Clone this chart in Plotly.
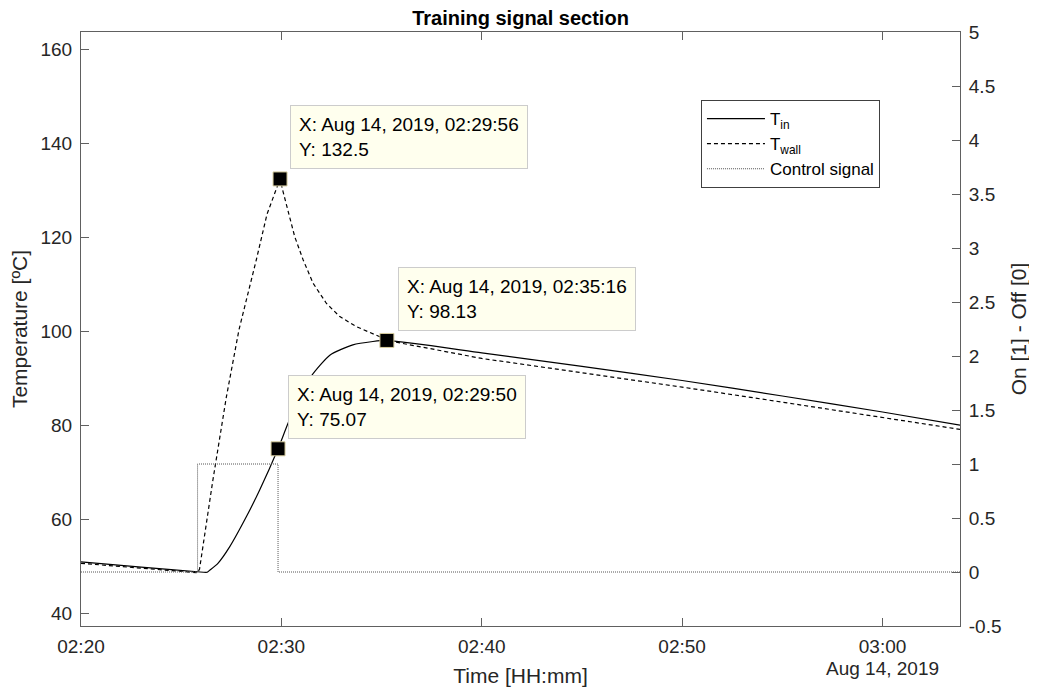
import plotly.graph_objects as go

DATE = "2019-08-14 "

# T_in (solid)
tin_time = ["02:20:00", "02:23:00", "02:25:49", "02:26:18", "02:26:25", "02:26:50", "02:27:25",
            "02:28:15", "02:28:55", "02:29:50", "02:30:20", "02:31:00", "02:31:30", "02:32:25",
            "02:33:34", "02:34:34", "02:35:16", "02:40:00", "02:45:00", "02:50:00", "02:55:00",
            "03:00:00", "03:03:52"]
tin_vals = [51.0, 49.9, 48.9, 48.8, 49.2, 50.7, 54.2,
            60.6, 66.3, 75.07, 80.5, 86.8, 90.6, 95.0,
            97.2, 97.9, 98.13, 95.5, 92.6, 89.6, 86.3,
            82.9, 80.1]

# T_wall (dashed)
twall_time = ["02:20:00", "02:25:49", "02:25:55", "02:26:34", "02:27:15", "02:27:53", "02:28:45",
              "02:29:17", "02:29:56", "02:30:05", "02:30:40", "02:31:05", "02:31:35", "02:32:15",
              "02:32:55", "02:33:44", "02:34:55", "02:35:16", "02:40:00", "02:45:00", "02:50:00",
              "02:55:00", "03:00:00", "03:03:52"]
twall_vals = [50.7, 48.7, 49.5, 68.0, 86.0, 100.4, 115.3,
              125.0, 132.5, 129.8, 120.2, 115.3, 110.3, 106.0,
              103.2, 101.1, 98.9, 98.13, 94.3, 91.3, 88.2,
              85.0, 81.7, 79.2]

# Control signal (step, right axis)
ctrl_time = ["02:20:00", "02:25:49", "02:29:50", "03:03:52"]
ctrl_vals = [0, 1, 0, 0]

# Data tips
tip_time = ["02:29:56", "02:35:16", "02:29:50"]
tip_vals = [132.5, 98.13, 75.07]
tip_text = ["X: Aug 14, 2019, 02:29:56<br>Y: 132.5",
            "X: Aug 14, 2019, 02:35:16<br>Y: 98.13",
            "X: Aug 14, 2019, 02:29:50<br>Y: 75.07"]
tip_box_pos = [(0.2378, 0.8771), (0.3606, 0.6044), (0.2355, 0.4226)]

x_ticks = ["02:20:00", "02:30:00", "02:40:00", "02:50:00", "03:00:00"]
x_ticktext = ["02:20", "02:30", "02:40", "02:50", "03:00"]
y_ticks = [40, 60, 80, 100, 120, 140, 160]
y2_ticks = [-0.5, 0, 0.5, 1, 1.5, 2, 2.5, 3, 3.5, 4, 4.5, 5]
y2_ticktext = ["-0.5", "0", "0.5", "1", "1.5", "2", "2.5", "3", "3.5", "4", "4.5", "5"]

FONT = "Liberation Sans, Arial, Helvetica, sans-serif"
AX = "#606060"

def d(ts):
    return [DATE + t for t in ts]

fig = go.Figure()
fig.add_trace(go.Scatter(x=d(tin_time), y=tin_vals, mode="lines", name="T<sub>in</sub>",
                         line=dict(color="black", width=1.2, shape="spline", smoothing=0.6)))
fig.add_trace(go.Scatter(x=d(twall_time), y=twall_vals, mode="lines", name="T<sub>wall</sub>",
                         line=dict(color="black", width=1.2, dash="4px,3px")))
fig.add_trace(go.Scatter(x=d(ctrl_time), y=ctrl_vals, mode="lines", name="Control signal",
                         line=dict(color="#555555", width=1, dash="1px,1px", shape="hv"), yaxis="y2"))
fig.add_trace(go.Scatter(x=d(tip_time), y=tip_vals, mode="markers", showlegend=False,
                         marker=dict(symbol="square", size=14, color="black",
                                     line=dict(color="#d9cfa0", width=1))))

for txt, (px, py) in zip(tip_text, tip_box_pos):
    fig.add_annotation(text=txt, xref="paper", yref="paper", x=px, y=py,
                       xanchor="left", yanchor="top", align="left", showarrow=False,
                       bgcolor="#FFFFEE", bordercolor="#cccccc", borderwidth=1, borderpad=8,
                       font=dict(family=FONT, size=19, color="black"))

fig.add_annotation(text="Aug 14, 2019", x=DATE + "03:00:00", xref="x", yref="paper",
                   y=-0.05, yanchor="top", xanchor="center", showarrow=False,
                   font=dict(family=FONT, size=19, color="#262626"))

fig.update_layout(
    width=1037, height=689,
    margin=dict(l=73, r=85, t=24, b=71, autoexpand=False),
    paper_bgcolor="white", plot_bgcolor="white",
    font=dict(family=FONT, size=19, color="#262626"),
    title=dict(text="<b>Training signal section</b>", x=0.5, xref="paper",
               y=1 - 10 / 689, yref="container", yanchor="middle", xanchor="center",
               font=dict(family=FONT, size=20, color="black")),
    xaxis=dict(type="date", range=[DATE + "02:20:00", DATE + "03:03:52"],
               tickvals=d(x_ticks), ticktext=x_ticktext, ticks="inside", ticklen=8,
               tickcolor=AX, showline=True, linecolor=AX, linewidth=1, mirror="ticks",
               showgrid=False, zeroline=False, ticklabelstandoff=3,
               title=dict(text="Time [HH:mm]", standoff=12, font=dict(size=21))),
    yaxis=dict(range=[37.36, 163.77], tickvals=y_ticks, ticks="inside", ticklen=8,
               tickcolor=AX, showline=True, linecolor=AX, linewidth=1, mirror=False,
               showgrid=False, zeroline=False, ticklabelstandoff=4,
               title=dict(text="Temperature [ºC]", standoff=8, font=dict(size=21))),
    yaxis2=dict(range=[-0.5, 5], overlaying="y", side="right", tickvals=y2_ticks,
                ticktext=y2_ticktext, ticks="inside", ticklen=8, tickcolor=AX,
                showline=True, linecolor=AX, linewidth=1, showgrid=False, zeroline=False,
                ticklabelstandoff=4,
                title=dict(text="On [1] - Off [0]", standoff=10, font=dict(size=21))),
    legend=dict(x=0.7053, y=0.8855, xanchor="left", yanchor="top",
                bordercolor="#404040", borderwidth=1, bgcolor="white",
                font=dict(family=FONT, size=17, color="black"), itemwidth=58,
                tracegroupgap=0),
    showlegend=True,
)

fig.write_html("out.html")
